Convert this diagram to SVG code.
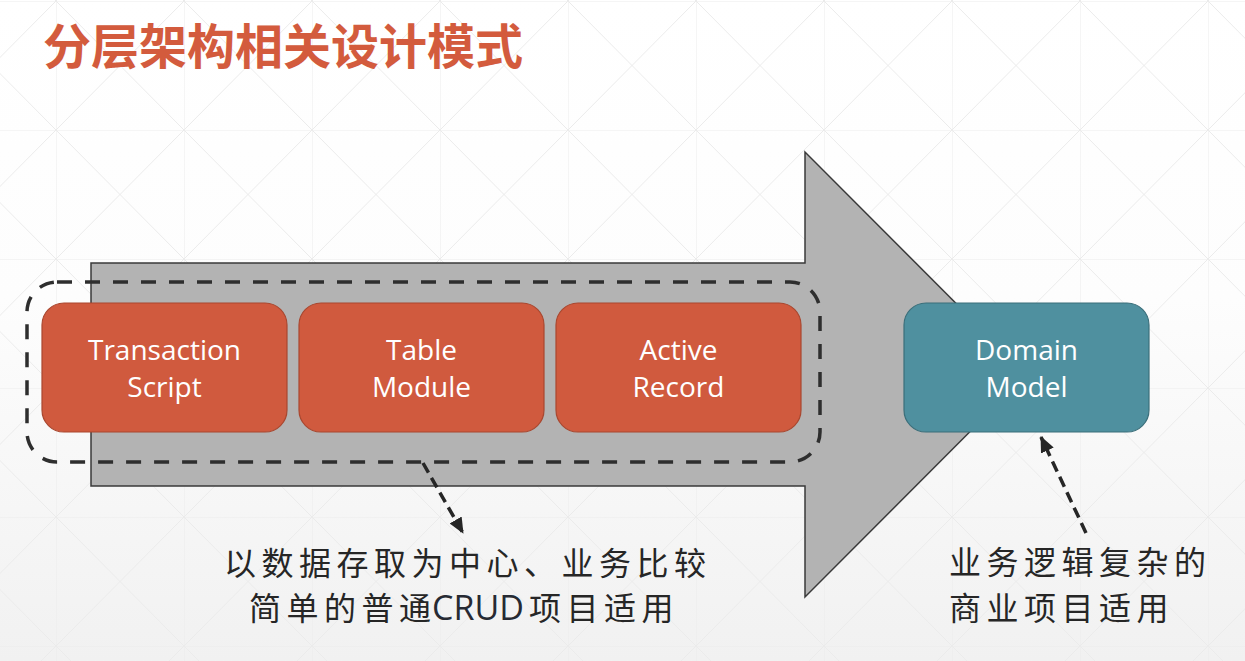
<svg xmlns="http://www.w3.org/2000/svg" width="1245" height="661" viewBox="0 0 1245 661">
  <defs>
    <linearGradient id="bgGrad" x1="0" y1="0" x2="0" y2="1">
      <stop offset="0" stop-color="#ffffff"/>
      <stop offset="0.45" stop-color="#fdfdfd"/>
      <stop offset="1" stop-color="#f1f1f1"/>
    </linearGradient>
    <pattern id="grid" x="56" y="1" width="128" height="129" patternUnits="userSpaceOnUse">
      <g stroke="#ebebeb" stroke-width="1" fill="none">
        <line x1="0" y1="0" x2="0" y2="129"/>
        <line x1="0" y1="0" x2="128" y2="0"/>
        <line x1="0" y1="0" x2="128" y2="129"/>
        <line x1="128" y1="0" x2="0" y2="129"/>
      </g>
    </pattern>
    <marker id="arrowHead" markerUnits="userSpaceOnUse" markerWidth="16" markerHeight="14" refX="15" refY="7" orient="auto">
      <path d="M0,0 L16,7 L0,14 z" fill="#262626"/>
    </marker>
    <style>
      .box-orange { fill: #d05a3e; stroke: #a9472f; stroke-width: 1.2; }
      .box-teal { fill: #4f909f; stroke: #3b6f7b; stroke-width: 1.2; }
      .box-text { font-family: "Open Sans", "Noto Sans", sans-serif; font-size: 28px; fill: #ffffff; text-anchor: middle; }
      .note { font-family: "Noto Sans CJK SC", "Noto Sans", sans-serif; font-size: 32px; fill: #262626; letter-spacing: 5.5px; }
      .note-latin { font-family: "Open Sans", "Noto Sans", sans-serif; font-size: 34px; fill: #262a33; }
      .connector { fill: none; stroke: #262626; stroke-width: 3.5; stroke-dasharray: 11 6; }
    </style>
  </defs>

  <g id="background">
    <rect x="0" y="0" width="1245" height="661" fill="url(#bgGrad)"/>
    <rect x="0" y="0" width="1245" height="661" fill="url(#grid)"/>
  </g>

  <g id="title">
    <text x="43" y="64" font-family="Noto Sans CJK SC, Noto Sans, sans-serif" font-size="48" font-weight="700" fill="#d35b3d">分层架构相关设计模式</text>
  </g>

  <g id="flow-arrow">
    <polygon points="91,263 805,263 805,152 1027,374.5 805,597 805,486 91,486" fill="#b3b3b3" stroke="#3a3a3a" stroke-width="1.5"/>
  </g>

  <g id="group-frame">
    <rect x="27" y="282" width="793" height="180" rx="30" ry="30" fill="none" stroke="#2e2e2e" stroke-width="3.5" stroke-dasharray="15 13"/>
  </g>

  <g id="node-transaction-script">
    <rect class="box-orange" x="42" y="303" width="245" height="129" rx="22" ry="22"/>
    <text class="box-text" x="164.5" y="360">Transaction</text>
    <text class="box-text" x="164.5" y="397">Script</text>
  </g>

  <g id="node-table-module">
    <rect class="box-orange" x="299" y="303" width="245" height="129" rx="22" ry="22"/>
    <text class="box-text" x="421.5" y="360">Table</text>
    <text class="box-text" x="421.5" y="397">Module</text>
  </g>

  <g id="node-active-record">
    <rect class="box-orange" x="556" y="303" width="245" height="129" rx="22" ry="22"/>
    <text class="box-text" x="678.5" y="360">Active</text>
    <text class="box-text" x="678.5" y="397">Record</text>
  </g>

  <g id="node-domain-model">
    <rect class="box-teal" x="904" y="303" width="245" height="129" rx="22" ry="22"/>
    <text class="box-text" x="1026.5" y="360">Domain</text>
    <text class="box-text" x="1026.5" y="397">Model</text>
  </g>

  <g id="note-crud">
    <text class="note" x="224" y="575">以数据存取为中心、业务比较</text>
    <text class="note" x="249" y="620">简单的普通</text>
    <text class="note-latin" x="432" y="620">CRUD</text>
    <text class="note" x="529" y="620">项目适用</text>
  </g>

  <g id="note-domain">
    <text class="note" x="949" y="574">业务逻辑复杂的</text>
    <text class="note" x="949" y="620">商业项目适用</text>
  </g>

  <g id="connectors">
    <line class="connector" x1="423" y1="463" x2="463" y2="533" marker-end="url(#arrowHead)"/>
    <line class="connector" x1="1086" y1="533" x2="1041" y2="437" marker-end="url(#arrowHead)"/>
  </g>
</svg>
